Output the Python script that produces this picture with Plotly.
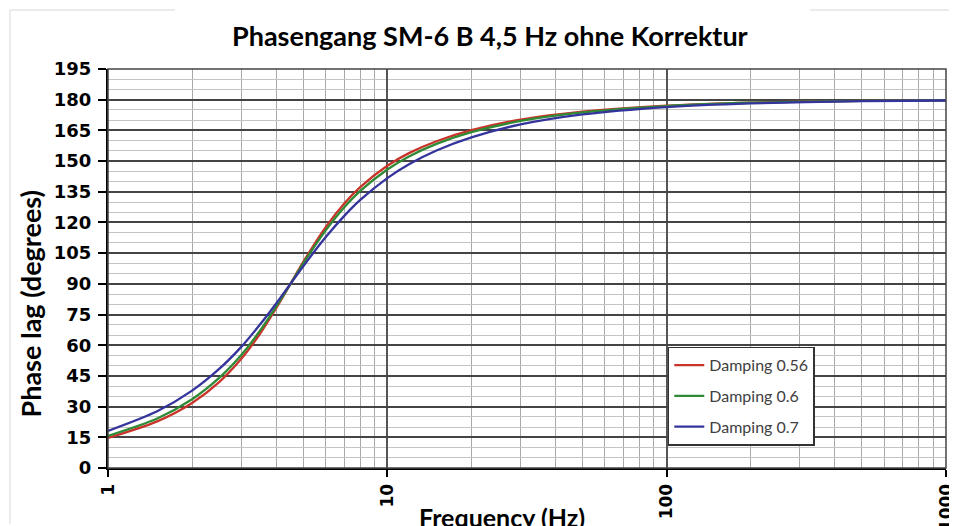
import plotly.graph_objects as go

# Frequencies (Hz) and phase lag (degrees)
freq = [1, 1.5, 2, 2.5, 3, 3.5, 4, 4.5, 5, 6, 7, 8, 10, 12, 15, 20, 30, 50, 100, 200, 500, 1000]
lag_056 = [14.7, 22.8, 31.8, 42.0, 53.4, 65.6, 78.1, 90.0, 100.7, 117.5, 129.2, 137.3, 147.7,
           154.0, 159.7, 165.1, 170.3, 174.2, 177.1, 178.6, 179.4, 179.7]
lag_060 = [15.7, 24.2, 33.6, 44.0, 55.2, 67.1, 78.9, 90.0, 100.0, 115.9, 127.3, 135.4, 145.9,
           152.4, 158.4, 164.1, 169.6, 173.8, 176.9, 178.5, 179.4, 179.7]
lag_070 = [18.1, 27.7, 37.8, 48.4, 59.2, 70.1, 80.4, 90.0, 98.6, 112.6, 123.1, 131.0, 141.7,
           148.6, 155.2, 161.6, 167.9, 172.8, 176.4, 178.2, 179.3, 179.6]

series_names = ["Damping 0.56", "Damping 0.6", "Damping 0.7"]
series_values = [lag_056, lag_060, lag_070]
series_colors = ["#c9342a", "#2f8a35", "#34349c"]

x_tick_vals = [1, 10, 100, 1000]
x_tick_text = ["1", "10", "100", "1000"]
x_minor_vals = [2, 3, 4, 5, 6, 7, 8, 9, 20, 30, 40, 50, 60, 70, 80, 90,
                200, 300, 400, 500, 600, 700, 800, 900]
y_tick_vals = list(range(0, 196, 15))

title_text = "Phasengang SM-6 B 4,5 Hz ohne Korrektur"
x_title = "Frequency (Hz)"
y_title = "Phase lag (degrees)"

fig = go.Figure()
for i, (name, vals, col) in enumerate(zip(series_names, series_values, series_colors)):
    fig.add_trace(go.Scatter(
        x=freq, y=vals, mode="lines", name=name,
        line=dict(color=col, width=2.3, shape="spline", smoothing=0.8),
        legendgroup=f"g{i}",
    ))

tick_font = dict(family="DejaVu Sans", size=18, color="black", weight="bold")

frame = "#e4e4e4"
# page body has an 8px margin, so the figure is sized to end at the window's edges
fig.update_layout(
    width=949, height=518,
    margin=dict(l=100, r=11, t=61, b=58),
    paper_bgcolor="white", plot_bgcolor="white",
    showlegend=True,
    legend=dict(
        x=0.668, y=0.304, xanchor="left", yanchor="top",
        bgcolor="white", bordercolor="#333333", borderwidth=1.5,
        font=dict(family="Lato", size=16, color="#404040"),
        itemwidth=30, tracegroupgap=7, traceorder="grouped",
    ),
    xaxis=dict(
        type="log", range=[0, 3], automargin=False,
        tickmode="array", tickvals=x_tick_vals, ticktext=x_tick_text,
        tickangle=-90, tickfont=dict(family="DejaVu Sans", size=17, color="black", weight="bold"),
        ticks="outside", ticklen=7, tickwidth=2, tickcolor="black",
        showline=True, linecolor="black", linewidth=2,
        showgrid=True, gridcolor="#555555", gridwidth=1.5,
        minor=dict(tickmode="array", tickvals=x_minor_vals, showgrid=True,
                   gridcolor="#a8a8a8", gridwidth=1, ticks=""),
        zeroline=False,
    ),
    yaxis=dict(
        range=[0, 195], tickmode="array", tickvals=y_tick_vals, automargin=False,
        tickfont=tick_font,
        ticks="outside", ticklen=8, tickwidth=2, tickcolor="black",
        showline=True, linecolor="black", linewidth=2,
        showgrid=True, gridcolor="#444444", gridwidth=1.5,
        minor=dict(dtick=5, showgrid=True, gridcolor="#c4c4c4", gridwidth=1, ticks=""),
        zeroline=False, ticklabelstandoff=3,
    ),
    annotations=[
        dict(text=title_text, xref="paper", yref="paper", x=0.456, y=1.085,
             xanchor="center", yanchor="middle", showarrow=False,
             font=dict(family="Lato", size=27, color="black", weight="bold")),
        dict(text=x_title, xref="paper", yref="paper", x=0.470, y=-0.080,
             xanchor="center", yanchor="top", showarrow=False,
             font=dict(family="Lato", size=25, color="black", weight="bold")),
        dict(text=y_title, xref="paper", yref="paper", x=-0.092, y=0.412,
             xanchor="center", yanchor="middle", showarrow=False, textangle=-90,
             font=dict(family="Lato", size=27, color="black", weight="bold")),
    ],
    shapes=[
        dict(type="rect", xref="paper", yref="paper", x0=0, x1=1, y0=0, y1=1,
             line=dict(color="#444444", width=1.5), layer="above"),
        dict(type="line", xref="paper", yref="paper", x0=-0.117, x1=-0.117, y0=-0.14, y1=1.148,
             line=dict(color=frame, width=1.5), layer="below"),
        dict(type="line", xref="paper", yref="paper", x0=-0.117, x1=0.080, y0=1.148, y1=1.148,
             line=dict(color=frame, width=1.5), layer="below"),
        dict(type="line", xref="paper", yref="paper", x0=0.838, x1=1.013, y0=1.148, y1=1.148,
             line=dict(color=frame, width=1.5), layer="below"),
    ],
)

fig.write_html("out.html")
